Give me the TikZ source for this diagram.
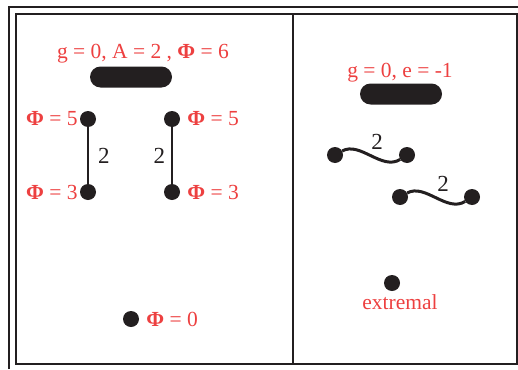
\documentclass[tikz,border=0pt]{standalone}
\usepackage{fontspec}
\setmainfont{Liberation Serif}
\usetikzlibrary{positioning}
\definecolor{LabelRed}{RGB}{237,64,64}
\definecolor{InkBlack}{RGB}{35,31,32}
\newcommand{\phisym}{{\bfseries Φ}}

\begin{document}
\begin{tikzpicture}[
    x=1pt, y=-1pt,
    dot/.style={circle, fill=InkBlack, inner sep=0pt, minimum size=16pt},
    blob/.style={rectangle, rounded corners=10.5pt, fill=InkBlack,
                 minimum width=82pt, minimum height=21pt},
    lbl/.style={text=LabelRed, font=\fontsize{21.5}{24}\selectfont, inner sep=1pt},
    num/.style={text=InkBlack, font=\fontsize{23}{24}\selectfont, inner sep=1pt},
    bond/.style={draw=InkBlack, line width=2pt},
    wavy/.style={draw=InkBlack, line width=3pt},
    frame/.style={draw=InkBlack, line width=2pt}
]
\useasboundingbox (0,0) rectangle (518,369);

% frames
\draw[frame] (9,369) -- (9,7) -- (518,7);
\draw[frame] (16,14) rectangle (517,364);
\draw[frame] (293,14) -- (293,364);

% left panel
\node[blob] (capA) at (131,77) {};
\node[lbl, anchor=base] (capAlbl) at (143,58) {g = 0, A = 2 , \phisym{} = 6};

\node[dot] (a5) at (88,119) {};
\node[dot] (a3) at (88,192) {};
\node[dot] (b5) at (172,119) {};
\node[dot] (b3) at (172,192) {};
\node[lbl, left=1pt of a5] (a5lbl) {\phisym{} = 5};
\node[lbl, left=1pt of a3] (a3lbl) {\phisym{} = 3};
\node[lbl, right=6pt of b5] (b5lbl) {\phisym{} = 5};
\node[lbl, right=6pt of b3] (b3lbl) {\phisym{} = 3};
\draw[bond] (a5) -- (a3) node[num, midway, right=8pt] {2};
\draw[bond] (b5) -- (b3) node[num, midway, left=5pt] {2};

\node[dot] (z0) at (131,319) {};
\node[lbl, right=6pt of z0] (z0lbl) {\phisym{} = 0};

% right panel
\node[blob] (capE) at (401,94) {};
\node[lbl, anchor=base] (capElbl) at (400,77) {g = 0, e = -1};

\node[dot] (p1) at (335,155) {};
\node[dot] (q1) at (407,155) {};
\draw[wavy] (p1) .. controls +(25,-14) and +(-25,16) .. (q1);
\node[num] (pq1num) at (377,142) {2};

\node[dot] (p2) at (400,197) {};
\node[dot] (q2) at (472,197) {};
\draw[wavy] (p2) .. controls +(25,-14) and +(-25,16) .. (q2);
\node[num] (pq2num) at (443,184) {2};

\node[dot] (ex) at (392,283) {};
\node[lbl] (exlbl) at (400,302) {extremal};

\end{tikzpicture}
\end{document}
